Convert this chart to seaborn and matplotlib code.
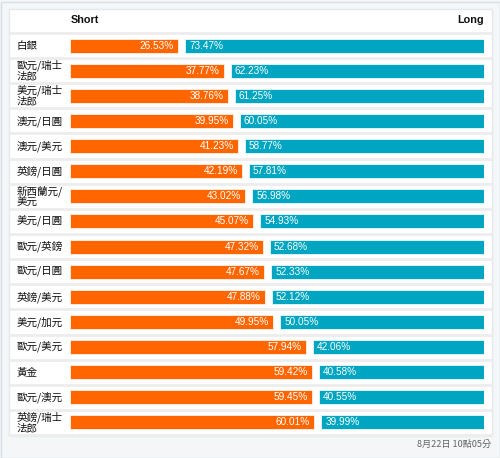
import matplotlib
matplotlib.use('Agg')
import matplotlib.pyplot as plt
import matplotlib.transforms as mtransforms
from matplotlib.lines import Line2D
from matplotlib.patches import Rectangle
import seaborn as sns
import numpy as np

# 資料
pairs = ['白銀', '歐元/瑞士\n法郎', '美元/瑞士\n法郎', '澳元/日圓', '澳元/美元', '英鎊/日圓',
         '新西蘭元/\n美元', '美元/日圓', '歐元/英鎊', '歐元/日圓', '英鎊/美元', '美元/加元',
         '歐元/美元', '黃金', '歐元/澳元', '英鎊/瑞士\n法郎']
short_pct = [26.53, 37.77, 38.76, 39.95, 41.23, 42.19, 43.02, 45.07, 47.32, 47.67,
             47.88, 49.95, 57.94, 59.42, 59.45, 60.01]
long_pct = [73.47, 62.23, 61.25, 60.05, 58.77, 57.81, 56.98, 54.93, 52.68, 52.33,
            52.12, 50.05, 42.06, 40.58, 40.55, 39.99]
header_left = 'Short'
header_right = 'Long'
footer = '8月22日 10點05分'

ORANGE = '#ff6600'
TEAL = '#00a6c1'
W, H = 500, 458

sns.set_style('white')
plt.rcParams['font.family'] = ['Liberation Sans', 'Noto Sans CJK TC', 'DejaVu Sans']
cjk = ['Noto Sans CJK TC', 'DejaVu Sans']

fig = plt.figure(figsize=(5, 4.58), dpi=100, facecolor='#f4f6f7')


def fx(px):
    return px / W


def fy(py):
    return 1 - py / H


# 外框和白色面板
fig.add_artist(Rectangle((fx(0.5), fy(457.5)), fx(499), 456 / H, transform=fig.transFigure,
                         facecolor='none', edgecolor='#d9e0e3', lw=1, zorder=-3))
fig.add_artist(Rectangle((fx(8.5), fy(435.5)), fx(483), 427 / H, transform=fig.transFigure,
                         facecolor='white', edgecolor='#e4e9eb', lw=1, zorder=-3))

row_top, row_h = 33, 25.125
n = len(pairs)

# 行分隔線
for i in range(n + 1):
    y = fy(row_top + i * row_h)
    fig.add_artist(Line2D([fx(9), fx(491)], [y, y], transform=fig.transFigure,
                          color='#ededed', lw=2, zorder=-2))

left_px, right_px = 70, 484
gap = 1.72
ax = fig.add_axes([fx(left_px), fy(row_top + n * row_h), fx(right_px - left_px), n * row_h / H])
ax.set_zorder(5)

sns.barplot(x=short_pct, y=pairs, orient='h', color=ORANGE, width=0.56, saturation=1,
            edgecolor='white', linewidth=0.5, ax=ax)
ypos = np.arange(n)
ax.barh(ypos, long_pct, left=np.array(short_pct) + gap, height=0.56, color=TEAL,
        edgecolor='white', linewidth=0.5)
ax.set_xlim(0, 100 + gap)
ax.set_ylim(n - 0.5, -0.5)
ax.axis('off')

for i in range(n):
    ax.annotate(f'{short_pct[i]:.2f}%', (short_pct[i], i), xytext=(-3, 0), textcoords='offset points',
                ha='right', va='center', color='white', fontsize=7.2)
    ax.annotate(f'{long_pct[i]:.2f}%', (short_pct[i] + gap, i), xytext=(3, 0), textcoords='offset points',
                ha='left', va='center', color='white', fontsize=7.2)

# 左側標籤
trans = mtransforms.blended_transform_factory(fig.transFigure, ax.transData)
for i, lab in enumerate(pairs):
    ax.text(fx(17), i, lab, transform=trans, ha='left', va='center', fontsize=7.6,
            family=cjk, weight='medium', color='#111111', linespacing=1.1, clip_on=False)

fig.text(fx(71), fy(20), header_left, ha='left', va='center', fontsize=7.8, weight='bold', color='#111111')
fig.text(fx(484), fy(20), header_right, ha='right', va='center', fontsize=7.8, weight='bold', color='#111111')
fig.text(fx(491), fy(444), footer, ha='right', va='center', fontsize=6.6, family=cjk, color='#666666')

fig.savefig('out.png', dpi=100, facecolor=fig.get_facecolor())
